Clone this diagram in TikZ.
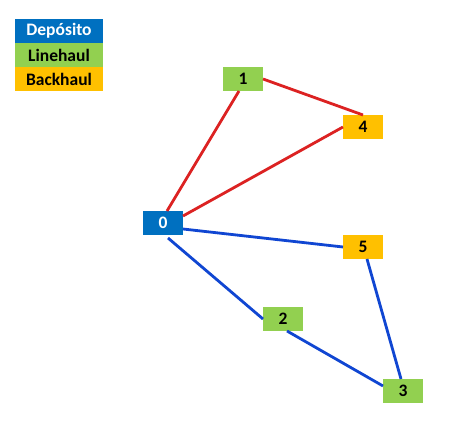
\documentclass[tikz,border=0pt]{standalone}
\usepackage{fontspec}
\setmainfont{Carlito}
\definecolor{depot}{HTML}{0070C0}
\definecolor{line}{HTML}{92D050}
\definecolor{back}{HTML}{FFC000}
\definecolor{redroute}{HTML}{DC2222}
\definecolor{blueroute}{HTML}{1046D2}
\tikzset{
  box/.style={draw=none, inner sep=0pt, outer sep=0pt, minimum width=40pt, minimum height=24pt, font=\fontsize{17.5}{17.5}\selectfont\bfseries},
  legbox/.style={box, minimum width=88pt},
  lh/.style={fill=line, text=black},
  bh/.style={fill=back, text=black},
  dp/.style={fill=depot, text=white},
  red route/.style={draw=redroute, line width=2.8pt},
  blue route/.style={draw=blueroute, line width=2.8pt}
}
\begin{document}
\begin{tikzpicture}[x=1pt,y=1pt]
\useasboundingbox[fill=white] (0,0) rectangle (456,422);
% legend
\node[legbox,dp] (ld) at (59,391) {Depósito};
\node[legbox,lh] (ll) at (59,367) {Linehaul};
\node[legbox,bh] (lb) at (59,343) {Backhaul};
% nodes
\node[box,lh] (n1) at (243,343) {1};
\node[box,bh] (n4) at (363,295) {4};
\node[box,dp] (n0) at (163,199) {0};
\node[box,bh] (n5) at (363,175) {5};
\node[box,lh] (n2) at (283,103) {2};
\node[box,lh] (n3) at (403,31) {3};
% red route
\draw[red route] ([xshift=-4pt]n1.south) -- ([xshift=4pt]n0.north);
\draw[red route] (n1.east) -- (n4.north);
\draw[red route] (n4.west) -- ([yshift=-5pt]n0.north east);
% blue route
\draw[blue route] ([yshift=-6pt]n0.east) -- (n5.west);
\draw[blue route] ([xshift=5pt,yshift=-3pt]n0.south) -- (n2.west);
\draw[blue route] ([xshift=4pt]n2.south) -- ([yshift=5pt]n3.west);
\draw[blue route] ([xshift=4pt]n5.south) -- ([xshift=-2pt]n3.north);
\end{tikzpicture}
\end{document}
